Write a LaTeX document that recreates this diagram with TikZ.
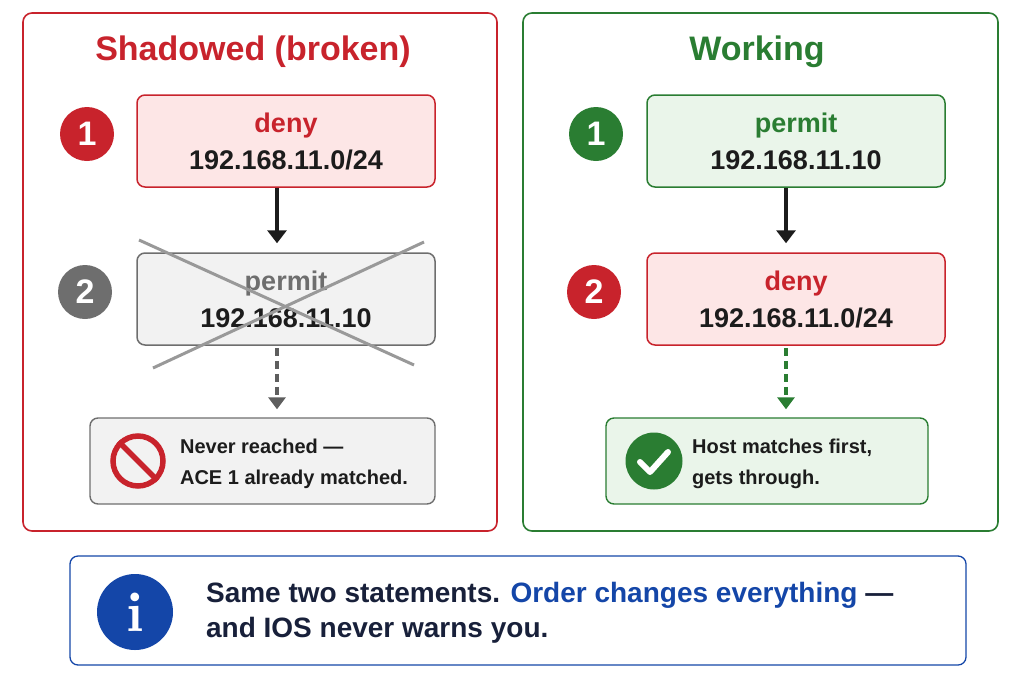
\documentclass[tikz,border=0pt]{standalone}
\usepackage{fontspec}
\setmainfont{Liberation Sans}
\usepackage{tikz}
\usetikzlibrary{shapes, arrows.meta, positioning}
\usepackage{xcolor}
\definecolor{badred}{HTML}{C8232C}
\definecolor{badfill}{HTML}{FDE6E6}
\definecolor{okgreen}{HTML}{2A7D32}
\definecolor{okfill}{HTML}{EAF5EA}
\definecolor{offgrey}{HTML}{6E6E6E}
\definecolor{offfill}{HTML}{F2F2F2}
\definecolor{infoblue}{HTML}{1446A8}
\definecolor{navy}{HTML}{18203A}
\definecolor{ink}{HTML}{1C1C1C}

\begin{document}
\begin{tikzpicture}[x=1pt, y=-1pt, >={Triangle[length=13pt, width=19pt]}, line width=1.5pt,
    panel/.style={draw, rounded corners=9pt, line width=1.6pt},
    ace/.style={draw, rounded corners=8pt, minimum width=298pt, minimum height=92pt, align=center,
        font=\bfseries\fontsize{27}{37}\selectfont, text=ink},
    numdot/.style={circle, minimum size=54pt, inner sep=0pt, text=white, font=\bfseries\fontsize{34}{34}\selectfont},
    note/.style={draw, rounded corners=8pt, minimum height=86pt, line width=1.4pt},
    notetext/.style={right, align=left, text=ink, font=\bfseries\fontsize{20}{31}\selectfont},
    flow/.style={->, line width=3.5pt, ink, shorten >=9pt},
    skip/.style={->, line width=3.4pt, dash pattern=on 8pt off 5pt, shorten >=8pt,
        >={Triangle[length=12pt, width=17pt]}}]
    \useasboundingbox (0,0) rectangle (1024,683);

    % 左: 被遮蔽
    \draw[panel, badred] (23,13) rectangle (497,531);
    \node[text=badred, font=\bfseries\fontsize{34}{34}\selectfont] (titleL) at (253,52) {Shadowed (broken)};

    \node[ace, draw=badred, fill=badfill] (aceL1) at (286,141) {{\color{badred}deny}\\192.168.11.0/24};
    \node[numdot, fill=badred] (numL1) at (87,134) {1};
    \node[ace, draw=offgrey, fill=offfill] (aceL2) at (286,299) {{\color{offgrey}permit}\\192.168.11.10};
    \node[numdot, fill=offgrey] (numL2) at (85,292) {2};
    \draw[flow] ([xshift=-9pt]aceL1.south) -- ([xshift=-9pt]aceL2.north);

    % 划掉的规则
    \draw[line width=3pt, black!40] (139,240) -- (414,365);
    \draw[line width=3pt, black!40] (424,242) -- (153,368);

    \node[note, draw=offgrey, fill=offfill, minimum width=345pt] (noteL) at (262.5,461) {};
    \coordinate (dropL) at ([xshift=-9pt, yshift=-2pt]aceL2.south);
    \draw[skip, offgrey!85!black] (dropL) -- (dropL |- noteL.north);
    \node[circle, draw=badred, line width=5.5pt, minimum size=50pt] (stopL) at (138,461) {};
    \draw[badred, line width=5.5pt] (stopL.north west) -- (stopL.south east);
    \node[notetext] (txtL) at (176,464) {Never reached ---\\ACE 1 already matched.};

    % 右: 正确顺序
    \draw[panel, okgreen] (523,13) rectangle (998,531);
    \node[text=okgreen, font=\bfseries\fontsize{34}{34}\selectfont] (titleR) at (757,52) {Working};

    \node[ace, draw=okgreen, fill=okfill] (aceR1) at (796,141) {{\color{okgreen}permit}\\192.168.11.10};
    \node[numdot, fill=okgreen] (numR1) at (596,134) {1};
    \node[ace, draw=badred, fill=badfill] (aceR2) at (796,299) {{\color{badred}deny}\\192.168.11.0/24};
    \node[numdot, fill=badred] (numR2) at (594,292) {2};
    \draw[flow] ([xshift=-10pt]aceR1.south) -- ([xshift=-10pt]aceR2.north);

    \node[note, draw=okgreen, fill=okfill, minimum width=322pt] (noteR) at (767,461) {};
    \coordinate (dropR) at ([xshift=-10pt, yshift=-2pt]aceR2.south);
    \draw[skip, okgreen] (dropR) -- (dropR |- noteR.north);
    \node[circle, fill=okgreen, minimum size=57pt] (chkR) at (654,461) {};
    \draw[white, line width=6pt, line cap=round, line join=round]
        ([shift={(-14,1)}]chkR.center) -- ([shift={(-4,11)}]chkR.center) -- ([shift={(14,-9)}]chkR.center);
    \node[notetext] (txtR) at (688,464) {Host matches first,\\gets through.};

    % 底部说明
    \draw[infoblue, rounded corners=8pt, line width=1.3pt] (70,556) rectangle (966,665);
    \node[circle, fill=infoblue, minimum size=76pt, text=white,
        font=\fontfamily{lmr}\bfseries\fontsize{56}{56}\selectfont] (info) at (135,612) {i};
    \node[right, align=left, text=navy, font=\bfseries\fontsize{28}{35}\selectfont] (msg) at (202,613)
        {Same two statements. {\color{infoblue}Order changes everything} ---\\and IOS never warns you.};
\end{tikzpicture}
\end{document}
